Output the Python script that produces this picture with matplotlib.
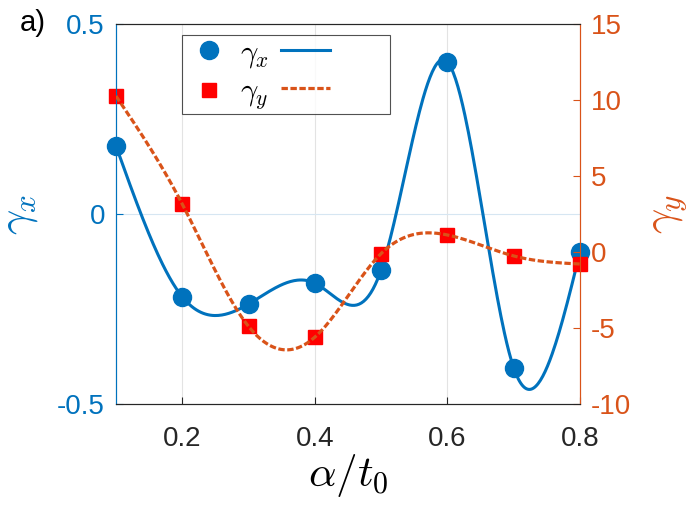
import numpy as np
import matplotlib
matplotlib.use("Agg")
import matplotlib.pyplot as plt

plt.rcParams['font.family'] = ['Liberation Sans', 'DejaVu Sans']
plt.rcParams['mathtext.fontset'] = 'cm'

# data
alpha = [0.1, 0.2, 0.3, 0.4, 0.5, 0.6, 0.7, 0.8]
gamma_x = [0.179, -0.218, -0.237, -0.182, -0.147, 0.40, -0.405, -0.10]
gamma_y = [10.26, 3.15, -4.9, -5.6, -0.1, 1.12, -0.26, -0.79]

blue = '#0072BD'
orange = '#D95319'


def spline(x, y, xs):
    # natural cubic spline through the points
    x = np.asarray(x, float)
    y = np.asarray(y, float)
    n = len(x)
    h = np.diff(x)
    A = np.zeros((n, n))
    b = np.zeros(n)
    A[0, 0] = A[-1, -1] = 1.0
    for i in range(1, n - 1):
        A[i, i - 1] = h[i - 1]
        A[i, i] = 2 * (h[i - 1] + h[i])
        A[i, i + 1] = h[i]
        b[i] = 6 * ((y[i + 1] - y[i]) / h[i] - (y[i] - y[i - 1]) / h[i - 1])
    M = np.linalg.solve(A, b)
    idx = np.clip(np.searchsorted(x, xs) - 1, 0, n - 2)
    x0, x1 = x[idx], x[idx + 1]
    hh = h[idx]
    return (M[idx] * (x1 - xs) ** 3 / (6 * hh) + M[idx + 1] * (xs - x0) ** 3 / (6 * hh)
            + (y[idx] / hh - M[idx] * hh / 6) * (x1 - xs)
            + (y[idx + 1] / hh - M[idx + 1] * hh / 6) * (xs - x0))


xs = np.linspace(alpha[0], alpha[-1], 400)

fig = plt.figure(figsize=(7, 5.05), dpi=100)
ax = fig.add_axes([0.1657, 0.2, 0.6629, 0.7525])
ax2 = ax.twinx()

for xv in [0.2, 0.4, 0.6]:
    ax.axvline(xv, color='#e3e3e3', lw=0.8, zorder=0)
ax.axhline(0, color='#d6e6f2', lw=0.8, zorder=0)

lx, = ax.plot(xs, spline(alpha, gamma_x, xs), color=blue, lw=2.2, zorder=3)
px, = ax.plot(alpha, gamma_x, 'o', color=blue, ms=13, zorder=4, clip_on=False)
ly, = ax2.plot(xs, spline(alpha, gamma_y, xs), '--', color=orange, lw=2.3,
               dashes=(2.0, 0.8), zorder=3)
py, = ax2.plot(alpha, gamma_y, 's', color='#FF0000', ms=10, zorder=2, clip_on=False)

ax.set_xlim(0.1, 0.8)
ax.set_ylim(-0.5, 0.5)
ax2.set_ylim(-10, 15)
ax.set_xticks([0.2, 0.4, 0.6, 0.8])
ax.set_yticks([-0.5, 0, 0.5])
ax.set_yticklabels(['-0.5', '0', '0.5'])
ax2.set_yticks([-10, -5, 0, 5, 10, 15])
ax2.set_yticklabels(['-10', '-5', '0', '5', '10', '15'])

ax.tick_params(axis='x', direction='in', labelsize=20, colors='#262626', pad=16, length=5)
ax.tick_params(axis='y', direction='in', labelsize=20, colors=blue, pad=8, length=5)
ax2.tick_params(axis='y', direction='in', labelsize=20, colors=orange, pad=8, length=5)

for a in (ax, ax2):
    a.spines['top'].set_color('#262626')
    a.spines['bottom'].set_color('#262626')
    a.spines['left'].set_color(blue)
    a.spines['right'].set_color(orange)

ax.set_xlabel(r'$\alpha/t_0$', fontsize=31, labelpad=0)
ax.set_ylabel(r'$\gamma_x$', fontsize=32, color=blue, labelpad=12)
ax2.set_ylabel(r'$\gamma_y$', fontsize=32, color=orange, labelpad=12)

pad = ' ' * 6
leg = ax.legend([px, py, lx, ly], [r'$\gamma_x$', r'$\gamma_y$', pad, pad], ncol=2,
                loc='upper left', bbox_to_anchor=(0.142, 0.971), borderaxespad=0,
                fontsize=22, frameon=True, fancybox=False, edgecolor='#262626',
                handlelength=1.6, columnspacing=0.4, handletextpad=0.2,
                borderpad=0.1, labelspacing=0.25)
leg.get_frame().set_linewidth(0.8)
leg.set_zorder(10)

fig.text(0.028, 0.939, 'a)', fontsize=21, color='black', va='baseline')

fig.savefig('out.png', dpi=100)
